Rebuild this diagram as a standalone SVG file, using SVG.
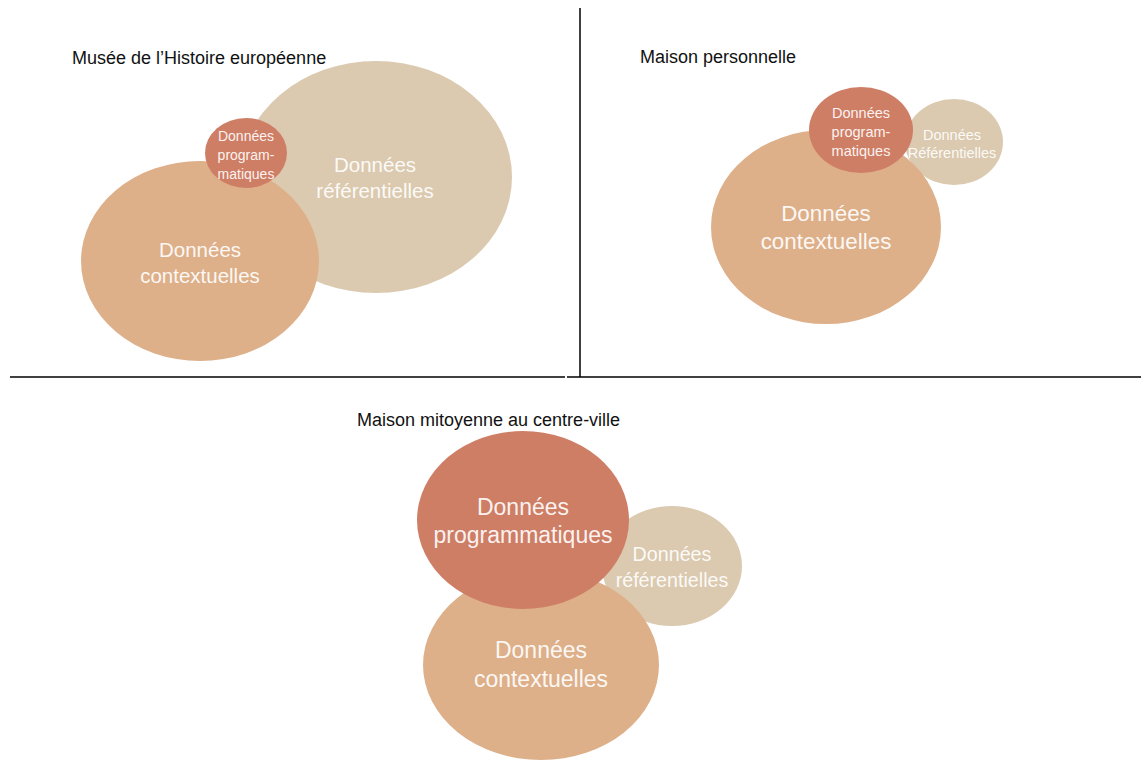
<svg xmlns="http://www.w3.org/2000/svg" width="1141" height="760" viewBox="0 0 1141 760">
  <style>
    .title { font-family: "Liberation Sans", Arial, sans-serif; font-size: 18px; fill: #111; }
    .lbl { font-family: "Liberation Sans", Arial, sans-serif; fill: #fff; fill-opacity: 0.92; text-anchor: middle; }
    .prog { fill: #CF7E66; }
    .ctx { fill: #DEB08A; }
    .ref { fill: #DBCAB0; }
    .rule { stroke: #000; stroke-width: 1.5; fill: none; }
  </style>
  <rect width="1141" height="760" fill="#fff"/>

  <!-- panel separators -->
  <g id="connectors">
    <line class="rule" x1="10" y1="377" x2="565" y2="377"/>
    <line class="rule" x1="567" y1="377" x2="1141" y2="377"/>
    <line class="rule" x1="580" y1="8" x2="580" y2="377"/>
  </g>

  <!-- Panel 1 -->
  <text class="title" x="72" y="64">Musée de l’Histoire européenne</text>
  <g id="p1-ref">
    <ellipse class="ref" cx="376" cy="177" rx="136" ry="116"/>
    <text class="lbl" font-size="20.5" x="375" y="172">Données</text>
    <text class="lbl" font-size="20.5" x="375" y="198">référentielles</text>
  </g>
  <g id="p1-ctx">
    <ellipse class="ctx" cx="200" cy="261" rx="119" ry="100"/>
    <text class="lbl" font-size="20.5" x="200" y="257">Données</text>
    <text class="lbl" font-size="20.5" x="200" y="283">contextuelles</text>
  </g>
  <g id="p1-prog">
    <ellipse class="prog" cx="246" cy="153" rx="41" ry="35"/>
    <text class="lbl" font-size="14" x="246" y="141">Données</text>
    <text class="lbl" font-size="14" x="246" y="160">program-</text>
    <text class="lbl" font-size="14" x="246" y="179">matiques</text>
  </g>

  <!-- Panel 2 -->
  <text class="title" x="640" y="63">Maison personnelle</text>
  <g id="p2-ref">
    <ellipse class="ref" cx="954" cy="142" rx="49" ry="43"/>
  </g>
  <g id="p2-ctx">
    <ellipse class="ctx" cx="826" cy="227" rx="115" ry="97"/>
    <text class="lbl" font-size="22.4" x="826" y="221">Données</text>
    <text class="lbl" font-size="22.4" x="826" y="249">contextuelles</text>
  </g>
  <g id="p2-prog">
    <ellipse class="prog" cx="861" cy="130" rx="52" ry="43"/>
    <text class="lbl" font-size="14.5" x="861" y="118">Données</text>
    <text class="lbl" font-size="14.5" x="861" y="137">program-</text>
    <text class="lbl" font-size="14.5" x="861" y="156">matiques</text>
  </g>
  <g id="p2-ref-label">
    <text class="lbl" font-size="14.5" x="952" y="140">Données</text>
    <text class="lbl" font-size="14.5" x="952" y="158">Référentielles</text>
  </g>

  <!-- Panel 3 -->
  <text class="title" x="357" y="426">Maison mitoyenne au centre-ville</text>
  <g id="p3-ref">
    <ellipse class="ref" cx="672" cy="566" rx="70" ry="60"/>
    <text class="lbl" font-size="19.7" x="672" y="561">Données</text>
    <text class="lbl" font-size="19.7" x="672" y="587">référentielles</text>
  </g>
  <g id="p3-ctx">
    <ellipse class="ctx" cx="541" cy="665" rx="118" ry="95"/>
    <text class="lbl" font-size="23" x="541" y="658">Données</text>
    <text class="lbl" font-size="23" x="541" y="687">contextuelles</text>
  </g>
  <g id="p3-prog">
    <ellipse class="prog" cx="523" cy="520" rx="106" ry="89"/>
    <text class="lbl" font-size="23" x="523" y="515">Données</text>
    <text class="lbl" font-size="23" x="523" y="543">programmatiques</text>
  </g>
</svg>
